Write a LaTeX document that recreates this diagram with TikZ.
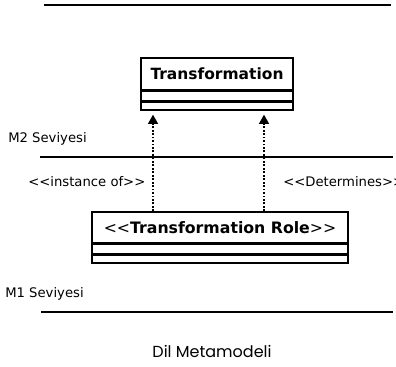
\documentclass[tikz,border=0pt]{standalone}
\usepackage{fontspec}
\setmainfont{DejaVu Sans}
\newfontfamily\captionfont{Poppins}
\usetikzlibrary{arrows.meta}

\newcommand{\lguil}{<\kern0pt<}
\newcommand{\rguil}{>\kern0pt>}

\tikzset{
  level/.style={line width=1.2pt},
  classname/.style={draw,line width=1.1pt,inner sep=0pt,font=\bfseries\fontsize{11.6}{13}\selectfont},
  compart/.style={draw,line width=1.1pt,inner sep=0pt,anchor=north},
  depends/.style={line width=1.2pt,dash pattern=on 1.4pt off 1.2pt,-{Triangle[length=7pt,width=7.5pt]},shorten >=3pt},
  tag/.style={font=\fontsize{9.9}{12}\selectfont,inner sep=0pt}
}

\begin{document}
\begin{tikzpicture}[x=0.75pt,y=-0.75pt]
\useasboundingbox (0,0) rectangle (396,367);

\draw[level] (44,5) -- (391,5);
\draw[level] (40,157) -- (393,157);
\draw[level] (41,312) -- (393,312);

\node[tag,anchor=west] (m2) at (8,139) {M2 Seviyesi};
\node[tag,anchor=west] (m1) at (5,294) {M1 Seviyesi};

\node[classname,minimum width=114pt,minimum height=24pt] (trans) at (217,74) {Transformation};
\node[compart,minimum width=114pt,minimum height=6.75pt] (trans-a) at (trans.south) {};
\node[compart,minimum width=114pt,minimum height=6pt] (trans-b) at (trans-a.south) {};

\node[classname,font=\fontsize{11.8}{14}\selectfont,minimum width=192pt,minimum height=23.25pt] (role) at (220,227.5) {\lguil\textbf{Transformation Role}\rguil};
\node[compart,minimum width=192pt,minimum height=6.75pt] (role-a) at (role.south) {};
\node[compart,minimum width=192pt,minimum height=6pt] (role-b) at (role-a.south) {};

\coordinate (lft) at (153,0);
\coordinate (rgt) at (264,0);
\draw[depends] (role.north -| lft) -- (trans-b.south -| lft);
\draw[depends] (role.north -| rgt) -- (trans-b.south -| rgt);

\node[tag,anchor=west] (inst) at (28,182) {\lguil instance of\rguil};
\node[tag,anchor=west] (det) at (283,182) {\lguil Determines\rguil};

\node[font=\captionfont\fontsize{12}{14}\selectfont] (lang) at (212,351) {Dil Metamodeli};
\end{tikzpicture}
\end{document}
